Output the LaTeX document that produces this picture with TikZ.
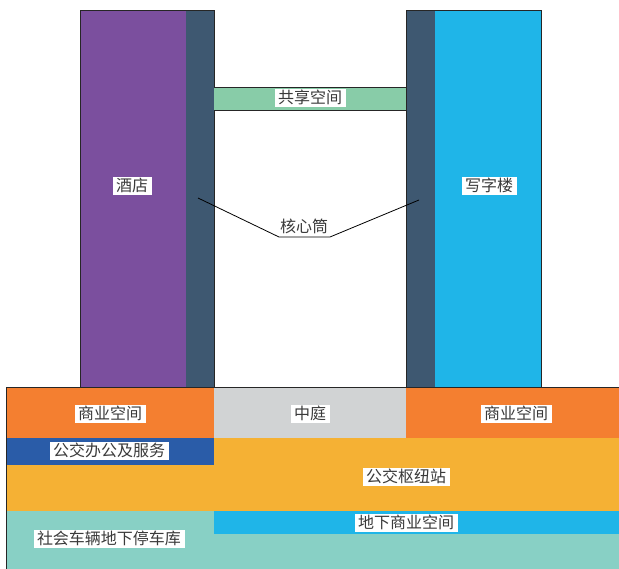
\documentclass[tikz,border=0pt]{standalone}
\usepackage{fontspec}
\newfontfamily\cjk{Noto Sans CJK SC}
\definecolor{cpurple}{HTML}{7B4F9E}
\definecolor{ccore}{HTML}{3E5871}
\definecolor{clblue}{HTML}{1FB5E8}
\definecolor{cgreen}{HTML}{88CCA8}
\definecolor{corange}{HTML}{F47F30}
\definecolor{cgray}{HTML}{D1D3D4}
\definecolor{cdblue}{HTML}{2A5CA8}
\definecolor{cyellow}{HTML}{F5B134}
\definecolor{cteal}{HTML}{88D0C5}
\definecolor{ctext}{HTML}{3A3A3A}
\tikzset{
  lbl/.style={fill=white, inner xsep=3.5pt, inner ysep=1pt, text height=13.5pt, text depth=2.5pt,
    font=\cjk\fontsize{16}{18}\selectfont, text=ctext},
  edge/.style={draw=black!85, line width=0.6pt},
}
\begin{document}
\begin{tikzpicture}[x=1pt,y=-1pt]
\useasboundingbox (0,0) rectangle (619,569);
% base
\fill[cteal] (6,511) rectangle (619,569);
\fill[clblue] (214,511) rectangle (619,534);
\fill[cyellow] (6,438) rectangle (619,511);
\fill[cdblue] (6,438) rectangle (214,465);
\fill[corange] (6,387) rectangle (214,438);
\fill[cgray] (214,387) rectangle (406,438);
\fill[corange] (406,387) rectangle (619,438);
\draw[edge] (6,569) -- (6,387) -- (619,387);
% towers
\fill[cpurple] (80,10) rectangle (186,387);
\fill[ccore] (186,10) rectangle (214,387);
\draw[edge] (80,387) -- (80,10) -- (214,10) -- (214,387);
\fill[ccore] (406,10) rectangle (435,387);
\fill[clblue] (435,10) rectangle (541,387);
\draw[edge] (406,387) -- (406,10) -- (541,10) -- (541,387);
% shared space
\fill[cgreen] (214,87) rectangle (406,110);
\draw[edge] (214,87) -- (406,87) (214,110) -- (406,110);
% labels
\node[lbl] (hotel) at (132,186) {酒店};
\node[lbl] (office) at (489,186) {写字楼};
\node[lbl] (share) at (310,98) {共享空间};
\node[lbl] (core) at (304,227) {核心筒};
\node[lbl] (comL) at (110,414) {商业空间};
\node[lbl] (atrium) at (310,414) {中庭};
\node[lbl] (comR) at (516,414) {商业空间};
\node[lbl] (busoff) at (109,451) {公交办公及服务};
\node[lbl] (hub) at (406,477) {公交枢纽站};
\node[lbl] (ugcom) at (406,523) {地下商业空间};
\node[lbl] (park) at (109,539) {社会车辆地下停车库};
% core leader
\coordinate (cl) at (198,198);
\coordinate (cr) at (419,200);
\coordinate (bl) at (279,237);
\coordinate (br) at (330,237);
\draw[black, line width=0.8pt] (cl) -- (bl) -- (br) -- (cr);
\end{tikzpicture}
\end{document}
